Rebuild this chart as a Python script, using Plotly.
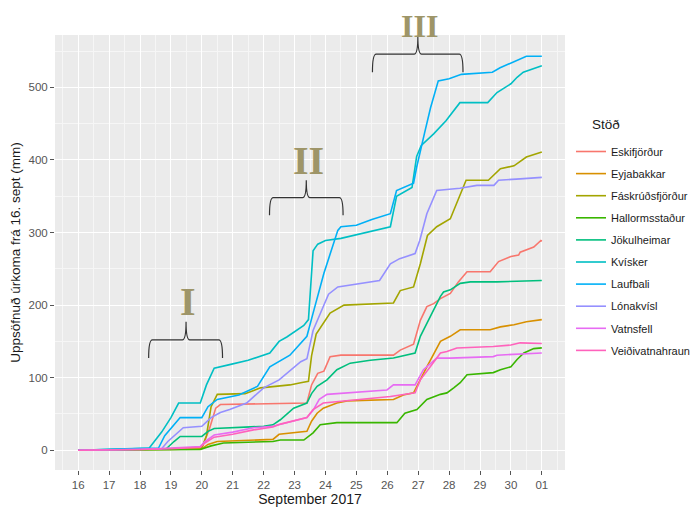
import pandas as pd
import plotly.graph_objects as go

BASE = pd.Timestamp("2017-09-16")

# Series data: day offsets from 16 Sept 2017 and cumulative precipitation (mm)
eski_day = [0, 1, 2, 3, 4.0, 4.25, 4.45, 4.6, 7.4, 7.55, 7.75, 7.95, 8.15, 8.5, 10.2, 10.42, 10.85, 11.07, 11.28, 11.5, 11.72, 12.04, 12.3, 12.58, 13.33, 13.6, 14.0, 14.25, 14.3, 14.74, 14.97, 15.0]
eski_mm = [0, 0, 1, 2, 3, 30, 58, 63, 65, 90, 106, 109, 129, 131, 131, 138, 146, 179, 198, 202, 209, 216, 232, 246, 246, 260, 267, 269, 273, 280, 289, 288]

eyja_day = [0, 1, 2, 3, 4.0, 4.2, 4.5, 6.3, 6.5, 7.4, 7.55, 7.73, 7.93, 8.37, 8.7, 10.2, 10.52, 10.85, 11.28, 11.72, 12.04, 12.36, 13.33, 13.66, 14.1, 14.5, 15.0]
eyja_mm = [0, 0, 0, 1, 2, 8, 12, 15, 22, 26, 40, 51, 58, 65, 68, 70, 76, 79, 115, 150, 157, 166, 166, 170, 173, 177, 180]

fask_day = [0, 1, 2, 3.0, 4.0, 4.15, 4.3, 4.5, 5.4, 5.9, 6.85, 7.2, 7.45, 7.55, 7.7, 8.15, 8.6, 10.2, 10.42, 10.85, 11.07, 11.3, 11.6, 12.04, 12.25, 12.55, 13.27, 13.66, 14.1, 14.5, 15.0]
fask_mm = [0, 1, 1, 2, 3, 20, 60, 77, 78, 86, 90, 93, 95, 130, 160, 189, 200, 203, 220, 225, 257, 296, 308, 319, 340, 372, 372, 388, 392, 404, 411]

hall_day = [0, 1, 2, 3, 3.95, 4.3, 4.7, 6.3, 6.54, 7.3, 7.6, 7.83, 8.37, 10.31, 10.57, 10.96, 11.28, 11.72, 11.93, 12.15, 12.36, 12.58, 13.43, 13.66, 14.0, 14.2, 14.42, 14.74, 15.0]
hall_mm = [0, 0, 0, 1, 1, 6, 10, 12, 14, 14, 24, 35, 38, 38, 51, 56, 70, 77, 79, 86, 93, 104, 107, 111, 115, 125, 134, 140, 141]

joku_day = [0, 1, 2, 2.85, 3.1, 3.3, 4.0, 4.2, 4.4, 5.2, 6.0, 6.3, 6.54, 6.97, 7.4, 7.55, 7.73, 8.05, 8.37, 8.8, 9.45, 10.2, 10.63, 10.9, 11.07, 11.5, 11.72, 11.82, 12.04, 12.36, 12.69, 13.55, 15.0]
joku_mm = [0, 1, 1, 2, 12, 19, 19, 26, 30, 32, 33, 35, 42, 58, 65, 78, 88, 97, 111, 120, 124, 127, 131, 134, 157, 193, 212, 218, 221, 230, 232, 232, 234]

kvis_day = [0, 1.0, 2.0, 2.3, 2.7, 3.0, 3.25, 3.95, 4.15, 4.4, 4.9, 5.5, 6.2, 6.5, 6.75, 7.0, 7.3, 7.45, 7.6, 7.75, 8.0, 8.5, 9.2, 9.7, 10.1, 10.3, 10.8, 10.95, 11.1, 11.5, 11.9, 12.35, 13.25, 13.55, 14.0, 14.2, 14.4, 15.0]
kvis_mm = [0, 1, 2, 3, 25, 45, 65, 65, 90, 113, 118, 124, 134, 150, 156, 163, 172, 180, 275, 284, 289, 292, 299, 303, 308, 350, 362, 405, 420, 436, 454, 479, 479, 493, 505, 514, 521, 530]

lauf_day = [0, 1, 2, 2.6, 2.8, 3.3, 4.0, 4.2, 4.5, 5.2, 5.8, 6.2, 6.85, 7.2, 7.4, 7.6, 7.95, 8.4, 8.5, 9.0, 9.5, 10.1, 10.3, 10.85, 10.95, 11.2, 11.4, 11.65, 12.0, 12.4, 13.4, 13.65, 14.2, 14.5, 15.0]
lauf_mm = [0, 1, 2, 3, 20, 45, 45, 60, 70, 76, 88, 115, 131, 148, 157, 189, 244, 303, 308, 310, 318, 326, 358, 368, 390, 436, 472, 509, 512, 518, 521, 527, 537, 543, 543]

lona_day = [0, 1, 2, 2.7, 2.9, 3.4, 4.0, 4.3, 4.6, 4.9, 5.45, 6.0, 6.5, 7.2, 7.4, 7.6, 7.93, 8.1, 8.4, 9.2, 9.75, 10.1, 10.4, 10.9, 11.05, 11.28, 11.6, 12.35, 12.9, 13.45, 13.6, 14.3, 15.0]
lona_mm = [0, 1, 2, 2, 12, 31, 33, 45, 52, 56, 65, 86, 97, 122, 126, 165, 198, 215, 225, 230, 234, 257, 264, 271, 289, 326, 358, 361, 365, 365, 372, 374, 376]

vatn_day = [0, 1, 2, 3.0, 3.95, 4.1, 4.4, 5.0, 5.67, 6.3, 7.18, 7.4, 7.6, 7.8, 8.05, 8.7, 9.99, 10.2, 10.9, 11.17, 11.6, 12.04, 13.43, 13.55, 15.0]
vatn_mm = [0, 0, 1, 3, 5, 12, 21, 25, 31, 33, 42, 45, 55, 70, 77, 79, 83, 90, 90, 111, 127, 127, 129, 131, 134]

veid_day = [0, 1, 2, 3.0, 3.95, 4.1, 4.4, 5.0, 5.67, 6.3, 6.54, 7.4, 7.6, 7.93, 8.7, 10.1, 10.9, 11.07, 11.39, 11.72, 11.93, 12.25, 13.43, 14.0, 14.3, 15.0]
veid_mm = [0, 0, 1, 2, 4, 10, 18, 22, 28, 32, 36, 45, 56, 65, 68, 74, 79, 97, 115, 134, 136, 141, 143, 145, 148, 147]

station_names = ["Eskifjörður", "Eyjabakkar", "Fáskrúðsfjörður", "Hallormsstaður", "Jökulheimar",
                 "Kvísker", "Laufbali", "Lónakvísl", "Vatnsfell", "Veiðivatnahraun"]
station_colors = ["#F8766D", "#D89000", "#A3A500", "#39B600", "#00BF7D",
                  "#00BFC4", "#00B0F6", "#9590FF", "#E76BF3", "#FF62BC"]
station_days = [eski_day, eyja_day, fask_day, hall_day, joku_day, kvis_day, lauf_day, lona_day, vatn_day, veid_day]
station_mm = [eski_mm, eyja_mm, fask_mm, hall_mm, joku_mm, kvis_mm, lauf_mm, lona_mm, vatn_mm, veid_mm]

# Event labels and their brace extents (day offsets, mm)
event_labels = ["I", "II", "III"]
event_label_size = [40, 40, 32]
event_label_drop_px = [0, 0, 6]
brace_left = [2.28, 6.19, 9.52]
brace_right = [4.67, 8.57, 12.45]
brace_tip = [3.49, 7.38, 10.99]
brace_end_mm = [127, 324, 521]
brace_bar_mm = [152, 348, 546]
brace_top_mm = [177, 372, 571]

X0, X1 = -0.75, 15.75
Y0, Y1 = -27.25, 572.25

W, H = 699, 513
# the page body adds an 8px offset, so the figure is laid out 8px up/left
ML, MR, MT, MB = 47, 142, 27, 51
PW, PH = W - ML - MR, H - MT - MB


def to_dt(days):
    return [BASE + pd.Timedelta(days=d) for d in days]


fig = go.Figure()
for name, col, d, v in zip(station_names, station_colors, station_days, station_mm):
    fig.add_trace(go.Scatter(x=to_dt(d), y=v, mode="lines", name=name, legendgroup=name,
                             line=dict(color=col, width=1.6)))


def px(d):
    return (d - X0) / (X1 - X0)


def py(v):
    return (v - Y0) / (Y1 - Y0)


shapes = []
annotations = []
for lab, fs, dp, l, r, t, e, b, top in zip(event_labels, event_label_size, event_label_drop_px,
                                          brace_left, brace_right, brace_tip,
                                          brace_end_mm, brace_bar_mm, brace_top_mm):
    rx = 0.12
    path = (f"M {px(l)},{py(e)} Q {px(l)},{py(b)} {px(l + rx)},{py(b)} "
            f"L {px(t - rx)},{py(b)} Q {px(t)},{py(b)} {px(t)},{py(top)} "
            f"Q {px(t)},{py(b)} {px(t + rx)},{py(b)} "
            f"L {px(r - rx)},{py(b)} Q {px(r)},{py(b)} {px(r)},{py(e)}")
    shapes.append(dict(type="path", xref="paper", yref="paper", path=path,
                       line=dict(color="#333333", width=1.2)))
    annotations.append(dict(text=lab, x=px(t) + 0.004, y=py(top) - 0.01 - dp / PH,
                            xref="paper", yref="paper",
                            xanchor="center", yanchor="bottom", showarrow=False,
                            font=dict(family="Liberation Serif", size=fs, color="#9E9568",
                                      weight="bold")))

annotations.append(dict(text="Stöð", x=(582 - ML) / PW, y=(H - MB - 117) / PH,
                        xref="paper", yref="paper",
                        xanchor="left", yanchor="middle", showarrow=False,
                        font=dict(family="Liberation Sans", size=13.5, color="#1a1a1a")))

fig.update_layout(
    width=W, height=H,
    margin=dict(l=ML, r=MR, t=MT, b=MB, autoexpand=False),
    paper_bgcolor="white", plot_bgcolor="#EBEBEB",
    font=dict(family="Liberation Sans", color="#1a1a1a"),
    shapes=shapes, annotations=annotations,
    showlegend=True,
    legend=dict(xref="container", yref="container", x=563 / W, xanchor="left",
                y=1 - 129 / H, yanchor="top",
                font=dict(size=11, color="#1a1a1a"), tracegroupgap=3.1, itemwidth=30,
                bgcolor="rgba(0,0,0,0)"),
    xaxis=dict(
        type="date", range=[BASE + pd.Timedelta(days=X0), BASE + pd.Timedelta(days=X1)],
        tick0=BASE, dtick=86400000, tickformat="%d", automargin=False,
        showgrid=True, gridcolor="white", gridwidth=1.1,
        minor=dict(dtick=43200000, tick0=BASE, showgrid=True, gridcolor="#F6F6F6", gridwidth=0.6),
        ticks="outside", ticklen=4, tickcolor="#555555",
        tickfont=dict(size=11.5, color="#555555"),
        title=dict(text="September 2017", font=dict(size=14, color="#1a1a1a"), standoff=2),
        zeroline=False, showline=False,
    ),
    yaxis=dict(
        range=[Y0, Y1], dtick=100, tick0=0, automargin=False,
        showgrid=True, gridcolor="white", gridwidth=1.1,
        minor=dict(dtick=50, tick0=0, showgrid=True, gridcolor="#F6F6F6", gridwidth=0.6),
        ticks="outside", ticklen=4, tickcolor="#555555",
        tickfont=dict(size=11.5, color="#555555"),
        title=dict(text="Uppsöfnuð úrkoma frá 16. sept (mm)", font=dict(size=13.5, color="#1a1a1a"), standoff=4),
        zeroline=False, showline=False,
    ),
)

fig.write_html("out.html")
